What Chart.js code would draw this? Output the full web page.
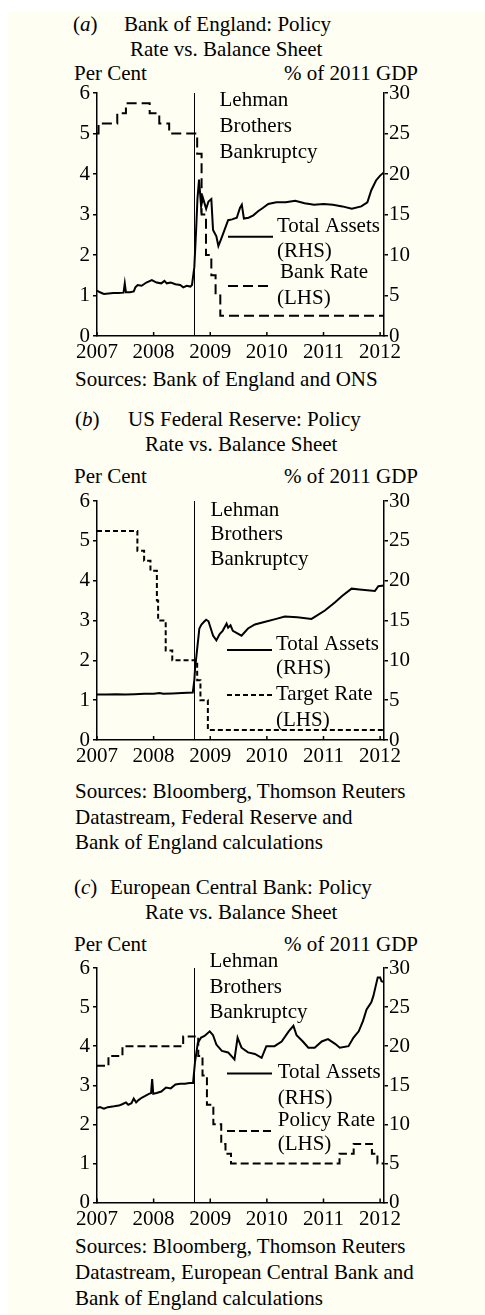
<!DOCTYPE html>
<html>
<head>
<meta charset="utf-8">
<script src="https://cdn.jsdelivr.net/npm/chart.js@4.4.0/dist/chart.umd.min.js"></script>
<style>
  body { margin: 0; background: #fff; width: 485px; height: 1315px; position: relative; overflow: hidden;
         font-family: 'Liberation Serif', 'Times New Roman', serif; font-size: 21px; color: #000; }
  .bg { position: absolute; left: 8px; top: 12px; right: 0; bottom: 0; background: #fefef2; }
  .t { position: absolute; line-height: 25px; white-space: nowrap; }
  canvas { position: absolute; left: 0; }
</style>
</head>
<body>
<div class="bg"></div>

<!-- panel a -->
<div class="t" style="left:73px;top:12px">(<i>a</i>)</div>
<div class="t" style="left:124px;top:12px">Bank of England: Policy</div>
<div class="t" style="left:130px;top:37px">Rate vs. Balance Sheet</div>
<div class="t" style="left:74px;top:61px">Per Cent</div>
<div class="t" style="right:67px;top:61px">% of 2011 GDP</div>
<div class="t" style="left:75px;top:367px">Sources: Bank of England and ONS</div>
<canvas id="chartA" width="485" height="310" style="top:60px"></canvas>

<!-- panel b -->
<div class="t" style="left:75px;top:407px">(<i>b</i>)</div>
<div class="t" style="left:128px;top:407px">US Federal Reserve: Policy</div>
<div class="t" style="left:145px;top:432px">Rate vs. Balance Sheet</div>
<div class="t" style="left:74px;top:464px">Per Cent</div>
<div class="t" style="right:67px;top:464px">% of 2011 GDP</div>
<div class="t" style="left:75px;top:779px;line-height:25.5px">Sources: Bloomberg, Thomson Reuters<br>Datastream, Federal Reserve and<br>Bank of England calculations</div>
<canvas id="chartB" width="485" height="310" style="top:470px"></canvas>

<!-- panel c -->
<div class="t" style="left:74px;top:875px">(<i>c</i>)</div>
<div class="t" style="left:110px;top:875px">European Central Bank: Policy</div>
<div class="t" style="left:145px;top:900px">Rate vs. Balance Sheet</div>
<div class="t" style="left:74px;top:932px">Per Cent</div>
<div class="t" style="right:67px;top:932px">% of 2011 GDP</div>
<div class="t" style="left:75px;top:1234px;line-height:25.8px">Sources: Bloomberg, Thomson Reuters<br>Datastream, European Central Bank and<br>Bank of England calculations</div>
<canvas id="chartC" width="485" height="300" style="top:935px"></canvas>

<script>
// ---- data ----
const yearTicks = [2007, 2008, 2009, 2010, 2011, 2012];
const lehmanDate = '2008-09-15';
const lehmanLines = ['Lehman', 'Brothers', 'Bankruptcy'];

// Bank of England
const boeRateDates = ['2007-01-01','2007-01-11','2007-05-10','2007-07-05','2007-12-06','2008-02-07','2008-04-10',
  '2008-10-08','2008-11-06','2008-12-04','2009-01-08','2009-02-05','2009-03-05','2012-01-26'];
const boeRate = [5.0, 5.25, 5.5, 5.75, 5.5, 5.25, 5.0, 4.5, 3.0, 2.0, 1.5, 1.0, 0.5, 0.5];
const boeAssetDates = ['2007-01-01','2007-01-20','2007-02-15','2007-03-15','2007-04-15','2007-05-15','2007-06-20',
  '2007-06-28','2007-07-05','2007-08-01','2007-08-25','2007-09-05','2007-09-20','2007-10-15','2007-11-15',
  '2007-12-20','2008-01-20','2008-02-20','2008-03-10','2008-03-25','2008-04-20','2008-05-20','2008-06-20',
  '2008-07-10','2008-08-01','2008-08-25','2008-09-05','2008-09-20','2008-10-01','2008-10-10','2008-10-20',
  '2008-11-03','2008-11-14','2008-12-05','2008-12-20','2009-01-08','2009-01-19','2009-02-10','2009-02-23',
  '2009-03-15','2009-04-25','2009-05-20','2009-06-20','2009-07-10','2009-07-22','2009-08-05','2009-09-05',
  '2009-10-05','2009-11-05','2009-12-05','2010-01-10','2010-03-01','2010-05-01','2010-07-01','2010-09-01',
  '2010-11-01','2011-01-01','2011-03-01','2011-05-01','2011-07-01','2011-09-01','2011-10-10','2011-11-05',
  '2011-12-05','2012-01-01','2012-01-25'];
const boeAssets = [5.6, 5.4, 5.2, 5.25, 5.3, 5.3, 5.35, 6.5, 5.4, 5.4, 5.5, 6.0, 6.3, 6.2, 6.6,
  6.9, 6.6, 6.5, 6.8, 6.5, 6.6, 6.4, 6.3, 6.0, 6.2, 6.1, 6.3, 8.5, 13.0, 17.0, 19.3,
  16.0, 17.1, 15.7, 16.6, 16.9, 13.1, 12.3, 11.1, 12.2, 14.3, 14.4, 14.6, 15.8, 16.2, 14.5, 14.6,
  14.9, 15.4, 15.8, 16.3, 16.5, 16.5, 16.7, 16.4, 16.2, 16.3, 16.2, 16.0, 15.7, 16.0, 16.5, 18.0,
  19.2, 19.8, 20.2];

// US Federal Reserve
const fedRateDates = ['2007-01-01','2007-09-18','2007-10-31','2007-12-11','2008-01-22','2008-01-30','2008-03-18',
  '2008-04-30','2008-10-08','2008-10-29','2008-12-16','2012-01-26'];
const fedRate = [5.25, 4.75, 4.5, 4.25, 3.5, 3.0, 2.25, 2.0, 1.5, 1.0, 0.25, 0.25];
const fedAssetDates = ['2007-01-01','2007-03-01','2007-05-01','2007-07-01','2007-09-01','2007-11-01','2008-01-01',
  '2008-02-10','2008-03-01','2008-05-01','2008-07-01','2008-09-10','2008-09-20','2008-09-25','2008-10-22',
  '2008-11-05','2008-11-25','2008-12-05','2008-12-20','2009-01-19','2009-02-10','2009-03-01','2009-03-20',
  '2009-04-15','2009-04-25','2009-05-10','2009-05-25','2009-07-20','2009-09-01','2009-10-15','2009-12-15',
  '2010-03-01','2010-04-25','2010-07-15','2010-10-15','2011-01-10','2011-03-15','2011-05-01','2011-06-30',
  '2011-08-20','2011-11-28','2011-12-20','2012-01-25'];
const fedAssets = [5.7, 5.7, 5.75, 5.7, 5.75, 5.8, 5.8, 5.9, 5.8, 5.85, 5.9, 5.95, 7.5, 9.0, 14.0,
  14.5, 14.9, 15.1, 14.9, 13.1, 12.5, 13.3, 13.7, 14.6, 14.1, 14.4, 13.7, 13.1, 14.0, 14.5, 14.8,
  15.2, 15.5, 15.4, 15.2, 16.25, 17.3, 18.1, 19.0, 18.9, 18.7, 19.3, 19.4];

// European Central Bank
const ecbRateDates = ['2007-01-01','2007-03-14','2007-06-13','2008-07-09','2008-10-15','2008-11-12','2008-12-10',
  '2009-01-21','2009-03-11','2009-04-08','2009-05-13','2011-04-13','2011-07-13','2011-11-09','2011-12-14','2012-01-26'];
const ecbRate = [3.5, 3.75, 4.0, 4.25, 3.75, 3.25, 2.5, 2.0, 1.5, 1.25, 1.0, 1.25, 1.5, 1.25, 1.0, 1.0];
const ecbAssetDates = ['2007-01-01','2007-01-20','2007-02-15','2007-03-10','2007-04-20','2007-05-20','2007-06-15',
  '2007-07-05','2007-07-20','2007-08-10','2007-08-25','2007-09-10','2007-09-25','2007-10-15','2007-11-05',
  '2007-12-01','2007-12-15','2007-12-22','2007-12-29','2008-01-20','2008-02-20','2008-03-20','2008-04-20',
  '2008-05-20','2008-06-20','2008-07-20','2008-08-20','2008-09-12','2008-09-24','2008-10-12','2008-11-03',
  '2008-11-25','2008-12-28','2009-01-19','2009-02-10','2009-03-15','2009-04-25','2009-06-05','2009-06-25',
  '2009-07-20','2009-09-01','2009-10-15','2009-11-28','2009-12-28','2010-02-20','2010-04-05','2010-05-20',
  '2010-06-20','2010-07-10','2010-08-20','2010-09-25','2010-11-05','2010-12-20','2011-01-30','2011-03-15',
  '2011-04-15','2011-06-10','2011-07-12','2011-08-15','2011-09-12','2011-10-05','2011-11-05','2011-11-18',
  '2011-12-16','2012-01-01','2012-01-10','2012-01-25'];
const ecbAssets = [12.1, 12.2, 12.0, 12.2, 12.3, 12.4, 12.6, 12.8, 12.5, 12.7, 13.3, 12.8, 13.1, 13.4, 13.6,
  13.9, 14.0, 15.8, 13.9, 14.0, 14.2, 14.7, 14.6, 15.1, 15.2, 15.2, 15.3, 15.3, 17.9, 20.4, 21.1,
  21.3, 21.9, 21.4, 20.2, 19.4, 19.2, 18.3, 21.1, 19.8, 19.2, 19.0, 18.5, 20.0, 20.0, 20.6, 21.9,
  22.6, 21.4, 20.6, 19.8, 19.8, 20.6, 20.9, 20.3, 19.8, 20.0, 21.1, 21.9, 23.2, 24.7, 25.6, 26.4,
  28.8, 28.8, 28.3, 28.2];

// ---- helpers ----
function toYear(d) {
  const [y, m, dd] = d.split('-').map(Number);
  return y + (m - 1) / 12 + (dd - 1) / 365;
}
function pts(dates, vals) {
  return dates.map((d, i) => ({ x: toYear(d), y: vals[i] }));
}

const FONT = '"Liberation Serif", "Times New Roman", serif';
Chart.defaults.font.family = FONT;
Chart.defaults.font.size = 21;
Chart.defaults.color = '#000';

// inward x ticks, Lehman marker and the hand-placed legend
const annot = {
  id: 'annot',
  afterDatasetsDraw(chart, args, o) {
    const { ctx, chartArea: a } = chart;
    const x = chart.scales.x;
    ctx.save();
    ctx.strokeStyle = '#000';
    ctx.lineWidth = 1.5;
    x.ticks.forEach(t => {
      const px = x.getPixelForValue(t.value);
      ctx.beginPath();
      ctx.moveTo(px, a.bottom);
      ctx.lineTo(px, a.bottom - 4);
      ctx.stroke();
    });

    const lx = Math.round(x.getPixelForValue(toYear(lehmanDate))) + 0.5;
    ctx.lineWidth = 1;
    ctx.beginPath();
    ctx.moveTo(lx, a.top);
    ctx.lineTo(lx, a.bottom);
    ctx.stroke();

    ctx.fillStyle = '#000';
    ctx.font = '21px ' + FONT;
    ctx.textBaseline = 'middle';
    lehmanLines.forEach((s, i) => ctx.fillText(s, lx + o.textDx, a.top + o.textTop + i * o.textGap));

    o.legend.forEach((item, k) => {
      const ds = chart.data.datasets[k];
      ctx.lineWidth = ds.borderWidth;
      ctx.setLineDash(ds.borderDash || []);
      ctx.beginPath();
      ctx.moveTo(a.left + o.sampleX, a.top + item.lineY);
      ctx.lineTo(a.left + o.sampleX + 45, a.top + item.lineY);
      ctx.stroke();
      ctx.setLineDash([]);
      ds.legendText.forEach((s, i) => ctx.fillText(s, a.left + item.textX[i], a.top + item.textY[i]));
    });
    ctx.restore();
  }
};

function makePanel(id, assets, rate, rateName, dash, cfg) {
  const axisLine = { display: true, color: '#000', width: 1.5 };
  new Chart(document.getElementById(id), {
    type: 'line',
    data: {
      datasets: [
        { data: assets, yAxisID: 'y1', borderColor: '#000', borderWidth: 2, pointRadius: 0, tension: 0,
          legendText: ['Total Assets', '(RHS)'] },
        { data: rate, yAxisID: 'y', borderColor: '#000', borderWidth: 2, pointRadius: 0, stepped: true,
          borderDash: dash, legendText: [rateName, '(LHS)'] }
      ]
    },
    options: {
      responsive: false,
      animation: false,
      devicePixelRatio: 1,
      layout: { padding: { top: cfg.padTop, left: 0, right: 0, bottom: 0 } },
      plugins: {
        legend: { display: false },
        tooltip: { enabled: false },
        annot: cfg.annot
      },
      scales: {
        x: {
          type: 'linear',
          min: 2007,
          max: toYear('2012-01-26'),
          afterBuildTicks: s => { s.ticks = yearTicks.map(v => ({ value: v })); },
          afterFit: s => { s.height = cfg.xH; },
          grid: { display: true, drawOnChartArea: false, drawTicks: false },
          border: axisLine,
          ticks: { padding: 4, maxRotation: 0, autoSkip: false, callback: v => String(v) }
        },
        y: {
          position: 'left',
          min: 0, max: 6,
          afterFit: s => { s.width = 97; },
          ticks: { stepSize: 1, padding: 3 },
          grid: { drawOnChartArea: false, tickLength: 4, color: '#000', lineWidth: 1.5 },
          border: axisLine
        },
        y1: {
          position: 'right',
          min: 0, max: 30,
          afterFit: s => { s.width = 101; },
          ticks: { stepSize: 5, padding: 1 },
          grid: { drawOnChartArea: false, tickLength: 4, color: '#000', lineWidth: 1.5 },
          border: axisLine
        }
      }
    },
    plugins: [annot]
  });
}

makePanel('chartA', pts(boeAssetDates, boeAssets), pts(boeRateDates, boeRate), 'Bank Rate', [10, 5], {
  padTop: 33, xH: 34,
  annot: {
    textDx: 25, textTop: 7, textGap: 26, sampleX: 131,
    legend: [
      { lineY: 143.7, textX: [180, 180], textY: [133.7, 158.7] },
      { lineY: 193, textX: [183, 180], textY: [179.7, 205.3] }
    ]
  }
});

makePanel('chartB', pts(fedAssetDates, fedAssets), pts(fedRateDates, fedRate), 'Target Rate', [5, 3], {
  padTop: 31, xH: 40,
  annot: {
    textDx: 16, textTop: 9, textGap: 24.5, sampleX: 130,
    legend: [
      { lineY: 149, textX: [179, 179], textY: [143, 167.3] },
      { lineY: 194, textX: [179, 179], textY: [193.3, 219] }
    ]
  }
});

makePanel('chartC', pts(ecbAssetDates, ecbAssets), pts(ecbRateDates, ecbRate), 'Policy Rate', [8, 4], {
  padTop: 33, xH: 32.5,
  annot: {
    textDx: 15, textTop: -6.6, textGap: 25.7, sampleX: 130,
    legend: [
      { lineY: 105.4, textX: [180.7, 180.7], textY: [104.4, 130.4] },
      { lineY: 163, textX: [180.7, 180.7], textY: [152, 176.4] }
    ]
  }
});
</script>
</body>
</html>
